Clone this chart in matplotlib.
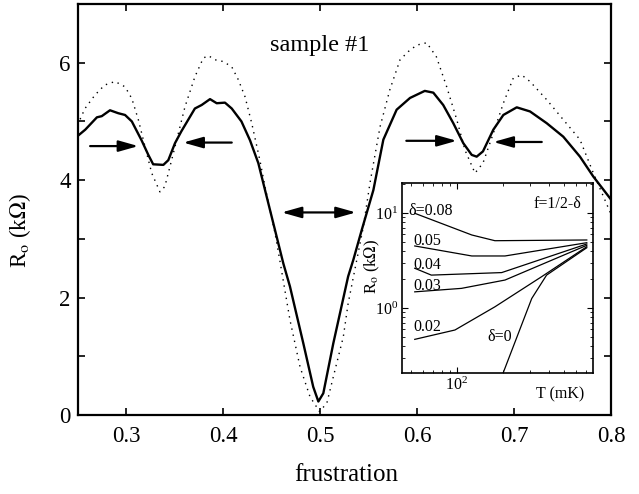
import matplotlib
matplotlib.use("Agg")
import matplotlib.pyplot as plt
import numpy as np

# --- donnees ---
frac_solid = [0.25, 0.258, 0.270, 0.275, 0.2835, 0.292, 0.299, 0.306, 0.316, 0.323,
              0.328, 0.3385, 0.3436, 0.3505, 0.357, 0.371, 0.378, 0.3866, 0.3935, 0.402,
              0.409, 0.419, 0.4278, 0.4364, 0.445, 0.4536, 0.4622, 0.469, 0.4828, 0.493,
              0.4983, 0.5034, 0.5137, 0.529, 0.5343, 0.543, 0.555, 0.5653, 0.579, 0.5928,
              0.608, 0.6168, 0.627, 0.6374, 0.6477, 0.6564, 0.6615, 0.668, 0.6787, 0.689,
              0.7028, 0.7165, 0.7337, 0.7508, 0.768, 0.7818, 0.80]
r_solid = [4.75, 4.86, 5.07, 5.09, 5.19, 5.14, 5.11, 5.00, 4.68, 4.43,
           4.27, 4.26, 4.34, 4.63, 4.83, 5.22, 5.28, 5.38, 5.31, 5.32,
           5.22, 5.00, 4.68, 4.29, 3.72, 3.15, 2.58, 2.19, 1.22, 0.48,
           0.23, 0.37, 1.22, 2.36, 2.64, 3.15, 3.83, 4.69, 5.20, 5.40,
           5.52, 5.49, 5.28, 4.97, 4.63, 4.43, 4.40, 4.49, 4.86, 5.11,
           5.24, 5.17, 4.97, 4.74, 4.40, 4.06, 3.67]

frac_dot = [0.25, 0.2577, 0.268, 0.278, 0.2887, 0.299, 0.306, 0.3127, 0.3196, 0.3265,
            0.335, 0.340, 0.347, 0.354, 0.3608, 0.371, 0.3797, 0.3849, 0.3918, 0.4003,
            0.409, 0.4158, 0.4227, 0.4296, 0.438, 0.4433, 0.4536, 0.4588, 0.469, 0.4794,
            0.4897, 0.4995, 0.507, 0.5137, 0.524, 0.529, 0.5446, 0.5515, 0.5619, 0.572,
            0.5825, 0.591, 0.5997, 0.610, 0.620, 0.6306, 0.641, 0.6495, 0.6598, 0.668,
            0.6787, 0.689, 0.6993, 0.708, 0.7165, 0.7337, 0.7508, 0.768, 0.7818, 0.80]
r_dot = [4.94, 5.22, 5.45, 5.62, 5.68, 5.59, 5.39, 5.03, 4.57, 4.12,
         3.80, 3.89, 4.34, 4.80, 5.25, 5.76, 6.08, 6.12, 6.05, 6.02,
         5.93, 5.71, 5.42, 4.97, 4.34, 3.89, 3.10, 2.61, 1.62, 0.82,
         0.31, 0.06, 0.20, 0.65, 1.33, 1.90, 3.20, 3.95, 4.91, 5.54,
         6.05, 6.19, 6.30, 6.34, 6.10, 5.59, 5.03, 4.51, 4.12, 4.29,
         4.80, 5.31, 5.74, 5.79, 5.68, 5.37, 5.03, 4.69, 4.12, 3.42]

# fleches : (depart, arrivee, R, style)
arrows = [(0.263, 0.3127, 4.58, "-|>"), (0.409, 0.359, 4.64, "-|>"),
          (0.4605, 0.537, 3.45, "<|-|>"), (0.589, 0.641, 4.67, "-|>"),
          (0.7286, 0.6787, 4.65, "-|>")]

# encart : R(T) pour f = 1/2 - delta
T_d08 = [53, 125, 177, 705];        R_d08 = [9.93, 5.87, 5.11, 5.2]
T_d05 = [53, 125, 206, 705];        R_d05 = [4.5, 3.53, 3.53, 4.87]
T_d04 = [53, 68, 196, 705];         R_d04 = [2.62, 2.22, 2.36, 4.72]
T_d03 = [53, 107, 206, 705];        R_d03 = [1.48, 1.61, 1.97, 4.57]
T_d02 = [53, 97, 177, 358, 705];    R_d02 = [0.468, 0.587, 1.03, 2.14, 4.42]
T_d00 = [200, 308, 385, 705];       R_d00 = [0.206, 1.26, 2.22, 4.31]
inset_curves = [(T_d08, R_d08), (T_d05, R_d05), (T_d04, R_d04),
                (T_d03, R_d03), (T_d02, R_d02), (T_d00, R_d00)]
inset_labels = [("δ=0.08", 47.9, 10.6), ("0.05", 51.6, 5.07), ("0.04", 51.6, 2.84),
                ("0.03", 51.6, 1.70), ("0.02", 51.6, 0.63), ("δ=0", 157, 0.495)]

plt.rcParams["font.family"] = ["Liberation Serif", "DejaVu Serif"]
plt.rcParams["mathtext.fontset"] = "stix"

fig = plt.figure(figsize=(6.39, 4.94), dpi=100)
ax = fig.add_axes([0.1213, 0.1599, 0.8349, 0.832])

ax.plot(frac_solid, r_solid, color="k", lw=1.7, solid_joinstyle="round")
ax.plot(frac_dot, r_dot, color="k", lw=1.0, linestyle=(0, (1, 3.5)))

for a, b, r, st in arrows:
    ax.annotate("", xy=(b, r), xytext=(a, r),
                arrowprops=dict(arrowstyle=st + ",head_length=0.85,head_width=0.24",
                                mutation_scale=14, lw=1.6, color="k",
                                shrinkA=0, shrinkB=0))

ax.text(0.5, 6.30, "sample #1", fontsize=17.5, ha="center", va="center")

ax.set_xlim(0.25, 0.8)
ax.set_ylim(0, 7)
ax.set_xticks([0.3, 0.4, 0.5, 0.6, 0.7, 0.8])
ax.set_xticklabels(["0.3", "0.4", "0.5", "0.6", "0.7", "0.8"])
ax.set_yticks([0, 2, 4, 6])
ax.set_yticks([1, 3, 5], minor=True)
ax.tick_params(which="both", direction="in", top=True, right=True, length=5, width=1.2)
ax.tick_params(axis="x", labelsize=16.5, pad=8)
ax.tick_params(axis="y", labelsize=16.5, pad=5)
for s in ax.spines.values():
    s.set_linewidth(1.6)
ax.set_xlabel("frustration", fontsize=18)
ax.xaxis.set_label_coords(0.503, -0.12)
ax.set_ylabel(r"R$_{\rm o}$ (k$\Omega$)", fontsize=16.5)
ax.yaxis.set_label_coords(-0.083, 0.45)

# --- encart ---
ins = fig.add_axes([0.629, 0.2449, 0.299, 0.3847])
ins.set_facecolor("white")
for T, R in inset_curves:
    ins.plot(T, R, color="k", lw=0.9)
ins.set_xscale("log")
ins.set_yscale("log")
ins.set_xlim(43.7, 774)
ins.set_ylim(0.207, 20.7)
for txt, t, r in inset_labels:
    ins.text(t, r, txt, fontsize=11.5, ha="left", va="center")
ins.text(314, 12.4, "f=1/2-δ", fontsize=11.5, ha="left", va="center")
ins.set_xticks([100])
ins.set_yticks([1, 10])
ins.tick_params(which="both", direction="in", top=True, right=True, labelsize=11.5, pad=3)
ins.tick_params(which="major", length=4)
ins.tick_params(which="minor", length=2.5)
ins.text(0.83, -0.115, "T (mK)", fontsize=11.5, ha="center", va="center",
         transform=ins.transAxes)
ins.set_ylabel(r"R$_{\rm o}$ (k$\Omega$)", fontsize=12)
ins.yaxis.set_label_coords(-0.105, 0.56)
for s in ins.spines.values():
    s.set_linewidth(1.2)

fig.savefig("out.png", dpi=100)
